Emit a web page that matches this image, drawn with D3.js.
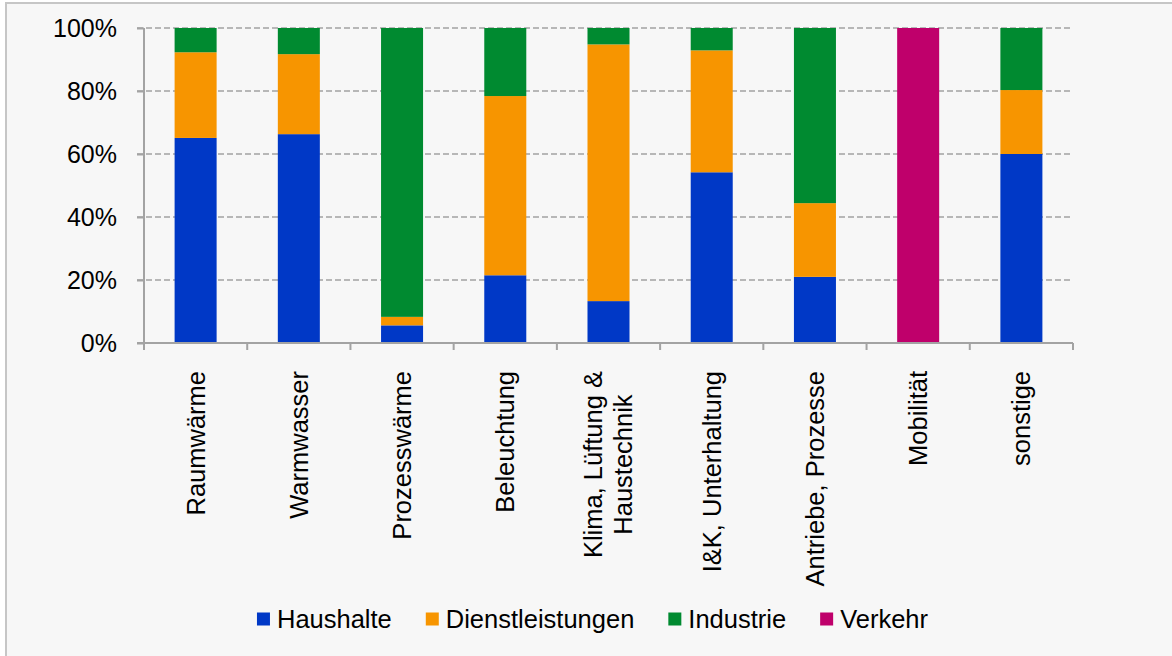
<!DOCTYPE html>
<html>
<head>
<meta charset="utf-8">
<script src="https://cdn.jsdelivr.net/npm/d3@7"></script>
<style>
  html, body { margin: 0; padding: 0; background: #ffffff; }
  svg { display: block; }
  text { font-family: "Liberation Sans", Arial, sans-serif; fill: #000; }
</style>
</head>
<body>
<svg id="chart" width="1172" height="656"></svg>
<script>
// Anwendungsbereiche (Kategorien der x-Achse), Zeilenumbrüche mit "\n"
const categories = [
  "Raumwärme", "Warmwasser", "Prozesswärme", "Beleuchtung",
  "Klima, Lüftung &\nHaustechnik", "I&K, Unterhaltung",
  "Antriebe, Prozesse", "Mobilität", "sonstige"
];

// Anteile der Sektoren in Prozent
const haushalte        = [65.1, 66.3, 5.6, 21.5, 13.3, 54.2, 21.0, 0, 60.0];
const dienstleistungen = [27.2, 25.4, 2.7, 56.9, 81.5, 38.7, 23.4, 0, 20.3];
const industrie        = [7.7, 8.3, 91.7, 21.6, 5.2, 7.1, 55.6, 0, 19.7];
const verkehr          = [0, 0, 0, 0, 0, 0, 0, 100, 0];

const seriesNames = ["Haushalte", "Dienstleistungen", "Industrie", "Verkehr"];
const seriesValues = [haushalte, dienstleistungen, industrie, verkehr];
const seriesColors = ["#0038c6", "#f79500", "#008a30", "#bf006b"];

const yTicks = [0, 20, 40, 60, 80, 100];

const svg = d3.select("#chart");

// Rahmen und Hintergrund
svg.append("rect")
  .attr("x", 6).attr("y", 3)
  .attr("width", 1200).attr("height", 700)
  .attr("fill", "#f7f7f7")
  .attr("stroke", "#c6c6c6")
  .attr("stroke-width", 2);

const plot = { left: 144, right: 1073, top: 28, bottom: 343 };

const x = d3.scaleBand()
  .domain(categories)
  .range([plot.left, plot.right])
  .padding(0);

const y = d3.scaleLinear()
  .domain([0, 100])
  .range([plot.bottom, plot.top]);

const barFrac = 0.407;
const barW = x.bandwidth() * barFrac;

// Gitterlinien
svg.append("g")
  .selectAll("line")
  .data(yTicks.filter(t => t > 0))
  .join("line")
  .attr("x1", plot.left - 7)
  .attr("x2", plot.right)
  .attr("y1", d => y(d))
  .attr("y2", d => y(d))
  .attr("stroke", "#a3a3a3")
  .attr("stroke-width", 1.6)
  .attr("stroke-dasharray", "6,3");

// Gestapelte Balken
const table = categories.map((c, i) => {
  const row = { cat: c };
  seriesNames.forEach((s, k) => { row[s] = seriesValues[k][i]; });
  return row;
});

const stacked = d3.stack().keys(seriesNames)(table);

svg.append("g")
  .selectAll("g")
  .data(stacked)
  .join("g")
  .attr("fill", (d, k) => seriesColors[k])
  .selectAll("rect")
  .data(d => d.filter(p => p[1] - p[0] > 0))
  .join("rect")
  .attr("x", d => x(d.data.cat) + (x.bandwidth() - barW) / 2)
  .attr("width", barW)
  .attr("y", d => y(d[1]))
  .attr("height", d => y(d[0]) - y(d[1]));

// y-Achse
const yAxis = d3.axisLeft(y)
  .tickValues(yTicks)
  .tickFormat(d => d + "%")
  .tickSize(7)
  .tickPadding(20);

const gy = svg.append("g")
  .attr("transform", `translate(${plot.left},0)`)
  .call(yAxis);
gy.select(".domain").remove();
gy.selectAll(".tick line").attr("stroke", "#a3a3a3").attr("stroke-width", 2);
gy.selectAll(".tick text")
  .style("font-size", "25px")
  .attr("fill", "#000");
gy.append("line")
  .attr("x1", 0).attr("x2", 0)
  .attr("y1", plot.top).attr("y2", plot.bottom)
  .attr("stroke", "#a3a3a3").attr("stroke-width", 2);

// x-Achse mit Teilstrichen an den Bandgrenzen
const gx = svg.append("g");
gx.append("line")
  .attr("x1", plot.left - 7).attr("x2", plot.right)
  .attr("y1", plot.bottom).attr("y2", plot.bottom)
  .attr("stroke", "#a3a3a3").attr("stroke-width", 2);
const bounds = categories.map(c => x(c)).concat([plot.right]);
gx.selectAll("line.tick")
  .data(bounds)
  .join("line")
  .attr("class", "tick")
  .attr("x1", d => d).attr("x2", d => d)
  .attr("y1", plot.bottom).attr("y2", plot.bottom + 7)
  .attr("stroke", "#a3a3a3").attr("stroke-width", 2);

// Kategoriebeschriftungen (um 90° gedreht)
const labelTop = 371;
const lineGap = 30;
const fs = 25.5;
const labels = svg.append("g").style("font-size", fs + "px");
categories.forEach(c => {
  const lines = c.split("\n");
  const g = labels.append("g");
  const texts = lines.map((ln, i) => g.append("text")
    .attr("text-anchor", "middle")
    .attr("dy", "0.35em")
    .text(ln));
  const maxW = d3.max(texts, t => t.node().getComputedTextLength());
  const cx = x(c) + x.bandwidth() / 2;
  texts.forEach((t, i) => {
    const off = (i - (lines.length - 1) / 2) * lineGap;
    t.attr("transform", `translate(${cx + off},${labelTop + maxW / 2}) rotate(-90)`);
  });
});

// Legende
const legend = svg.append("g").style("font-size", fs + "px");
const sq = 13, sqGap = 7, itemGap = 34;
const items = seriesNames.map((s, k) => {
  const g = legend.append("g");
  g.append("rect").attr("width", sq).attr("height", sq)
    .attr("y", -sq / 2).attr("fill", seriesColors[k]);
  const t = g.append("text").attr("x", sq + sqGap).attr("dy", "0.35em").text(s);
  return { g, w: sq + sqGap + t.node().getComputedTextLength() };
});
const totalW = d3.sum(items, d => d.w) + itemGap * (items.length - 1);
let lx = 592.5 - totalW / 2;
const ly = 619;
items.forEach(it => {
  it.g.attr("transform", `translate(${lx},${ly})`);
  lx += it.w + itemGap;
});
</script>
</body>
</html>
